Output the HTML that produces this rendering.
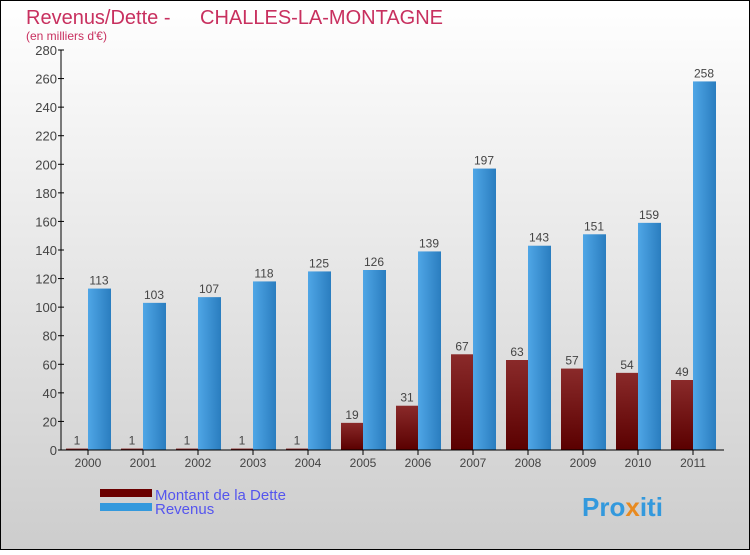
<!DOCTYPE html>
<html><head><meta charset="utf-8"><style>
body{margin:0}
#c{width:750px;height:550px;position:relative;font-family:"Liberation Sans",sans-serif}
</style></head><body>
<div id="c">
<svg width="750" height="550" xmlns="http://www.w3.org/2000/svg">
<defs>
<linearGradient id="bg" x1="0" y1="0" x2="0" y2="1"><stop offset="0" stop-color="#ffffff"/><stop offset="1" stop-color="#cdcdcd"/></linearGradient>
<linearGradient id="gb" x1="0" y1="0" x2="1" y2="0"><stop offset="0" stop-color="#4fa6e6"/><stop offset="1" stop-color="#2a7dbf"/></linearGradient>
<linearGradient id="gr" x1="0" y1="0" x2="0" y2="1"><stop offset="0" stop-color="#8a2a2a"/><stop offset="1" stop-color="#5a0000"/></linearGradient>
</defs>
<rect x="0.5" y="0.5" width="749" height="549" fill="url(#bg)" stroke="#000"/>
<text x="26" y="24" font-size="20" fill="#c8305f">Revenus/Dette -</text>
<text x="200" y="24" font-size="20" fill="#c8305f">CHALLES-LA-MONTAGNE</text>
<text x="26" y="40" font-size="12" fill="#c8305f">(en milliers d'€)</text>
<g id="plot"></g>
<rect x="100" y="489" width="52" height="8" fill="#6a0000"/>
<text x="155" y="500" font-size="15" fill="#5555ee">Montant de la Dette</text>
<rect x="100" y="503" width="52" height="8" fill="#3399dd"/>
<text x="155" y="514" font-size="15" fill="#5555ee">Revenus</text>
<text x="582" y="516" font-size="26" font-weight="bold" fill="#3399dd">Pro<tspan fill="#e88a20">x</tspan>iti</text>
</svg>
</div>
<script>
const categories=["2000","2001","2002","2003","2004","2005","2006","2007","2008","2009","2010","2011"];
const dette=[1,1,1,1,1,19,31,67,63,57,54,49];
const revenus=[113,103,107,118,125,126,139,197,143,151,159,258];
const yTicks=[0,20,40,60,80,100,120,140,160,180,200,220,240,260,280];
const NS="http://www.w3.org/2000/svg";
const g=document.getElementById('plot');
const x0=60.5,step=55,y0=450,yMax=280,h=400,bw=22;
const y=v=>y0-v/yMax*h;
const xc=i=>x0+step*i+step/2;
function mk(t,a){const e=document.createElementNS(NS,t);for(const k in a)e.setAttribute(k,a[k]);g.appendChild(e);return e;}
yTicks.forEach(v=>{
 const l=mk('line',{x1:58,x2:64,y1:y(v),y2:y(v),stroke:'#000'});
 
 
 const t=mk('text',{x:57,y:y(v)+5,'font-size':13,fill:'#444','text-anchor':'end'});t.textContent=v;
 
 
});
categories.forEach((c,i)=>{
 const cx=xc(i);
 const d=mk('rect',{x:cx-bw,y:y(dette[i]),width:bw,height:y0-y(dette[i]),fill:'url(#gr)'});
 
 
 const r=mk('rect',{x:cx,y:y(revenus[i]),width:bw+1,height:y0-y(revenus[i]),fill:'url(#gb)'});
 
 
 const t1=mk('text',{x:cx-bw/2,y:y(dette[i])-4,'font-size':12,fill:'#444','text-anchor':'middle'});t1.textContent=dette[i];
 
 
 const t2=mk('text',{x:cx+bw/2,y:y(revenus[i])-4,'font-size':12,fill:'#444','text-anchor':'middle'});t2.textContent=revenus[i];
 
 
 const tk=mk('line',{x1:cx,x2:cx,y1:y0,y2:y0+5,stroke:'#000'});
 
 
 const tl=mk('text',{x:cx,y:y0+17,'font-size':12,fill:'#444','text-anchor':'middle'});tl.textContent=c;
 
 
});
const ya=mk('line',{x1:61,x2:61,y1:50,y2:y0,stroke:'#000'});


const xa=mk('line',{x1:61,x2:724,y1:y0,y2:y0,stroke:'#000'});


</script>
</body></html>
